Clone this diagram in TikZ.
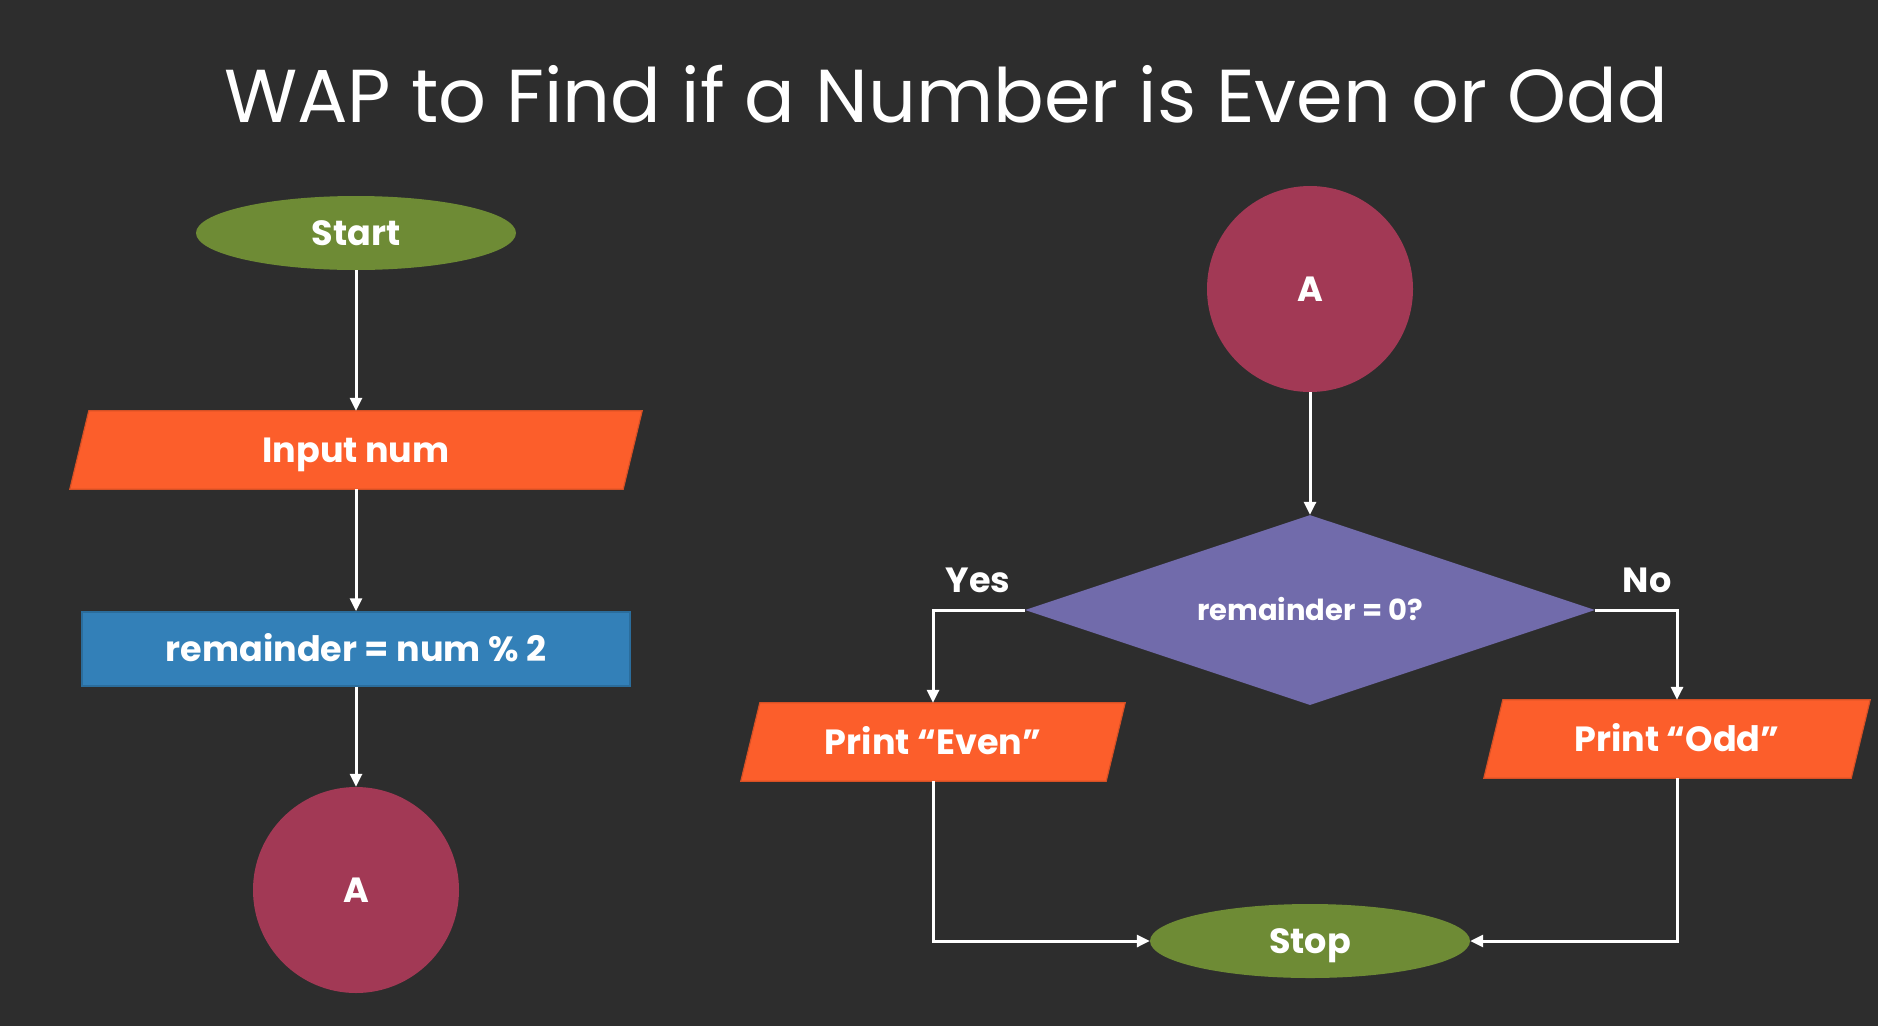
\documentclass[tikz,border=0pt]{standalone}
\usepackage{fontspec}
\setmainfont{Poppins}
\usetikzlibrary{shapes.geometric,arrows.meta,backgrounds}
\definecolor{bgc}{HTML}{2D2D2D}
\definecolor{greenc}{HTML}{6E8B35}
\definecolor{orangec}{HTML}{FC5E2B}
\definecolor{bluec}{HTML}{3380B8}
\definecolor{maroonc}{HTML}{A23955}
\definecolor{purplec}{HTML}{716BAB}
\begin{document}
\begin{tikzpicture}[x=1pt,y=-1pt,
  lbl/.style={text=white,font=\fontsize{35}{40}\selectfont\bfseries,text height=25pt,text depth=0pt,inner sep=0pt},
  terminal/.style={lbl,ellipse,fill=greenc,minimum width=320,minimum height=74},
  connector/.style={lbl,circle,fill=maroonc,minimum size=206},
  iobox/.style={lbl,rectangle,minimum height=78},
  procbox/.style={lbl,rectangle,fill=bluec,draw=bluec!85!black,line width=1.5pt,minimum width=548,minimum height=74},
  decision/.style={lbl,diamond,shape aspect=3,fill=purplec,minimum width=570,minimum height=190,font=\fontsize{29}{34}\selectfont\bfseries,text height=20pt},
  arr/.style={draw=white,line width=3pt,-{Triangle[length=13pt,width=12pt]}},
  para/.style={fill=orangec,draw=orangec!85!black,line width=1.2pt}]
\begin{scope}[on background layer]
  \fill[bgc] (0,0) rectangle (1878,1026);
\end{scope}
\useasboundingbox (0,0) rectangle (1878,1026);

\node[anchor=base,text=white,font=\fontsize{75}{90}\selectfont] (title) at (946,122) {WAP to Find if a Number is Even or Odd};

% left flowchart
\node[terminal] (start) at (356,233) {Start};
\node[iobox,minimum width=572] (input) at (356,450) {Input num};
\node[procbox] (rem) at (356,649) {remainder = num \% 2};
\node[connector] (aleft) at (356,890) {A};

% right flowchart
\node[connector] (aright) at (1310,289) {A};
\node[decision] (dia) at (1310,610) {remainder = 0?};
\node[iobox,minimum width=384] (even) at (933,742) {Print “Even”};
\node[iobox,minimum width=386] (odd) at (1677,739) {Print “Odd”};
\node[terminal] (stop) at (1310,941) {Stop};

\node[lbl] (yes) at (978,580) {Yes};
\node[lbl] (no) at (1647,580) {No};

\begin{scope}[on background layer]
  \foreach \n in {input,even,odd}{
    \filldraw[para] ([xshift=19pt]\n.north west) -- (\n.north east) -- ([xshift=-19pt]\n.south east) -- (\n.south west) -- cycle;
  }
\end{scope}

\draw[arr] (start) -- (input);
\draw[arr] (input) -- (rem);
\draw[arr] (rem) -- (aleft);
\draw[arr] (aright) -- (dia);
\draw[arr] (dia.west) -| (even.north);
\draw[arr] (dia.east) -| (odd.north);
\draw[arr] (even.south) |- (stop.west);
\draw[arr] (odd.south) |- (stop.east);
\end{tikzpicture}
\end{document}
